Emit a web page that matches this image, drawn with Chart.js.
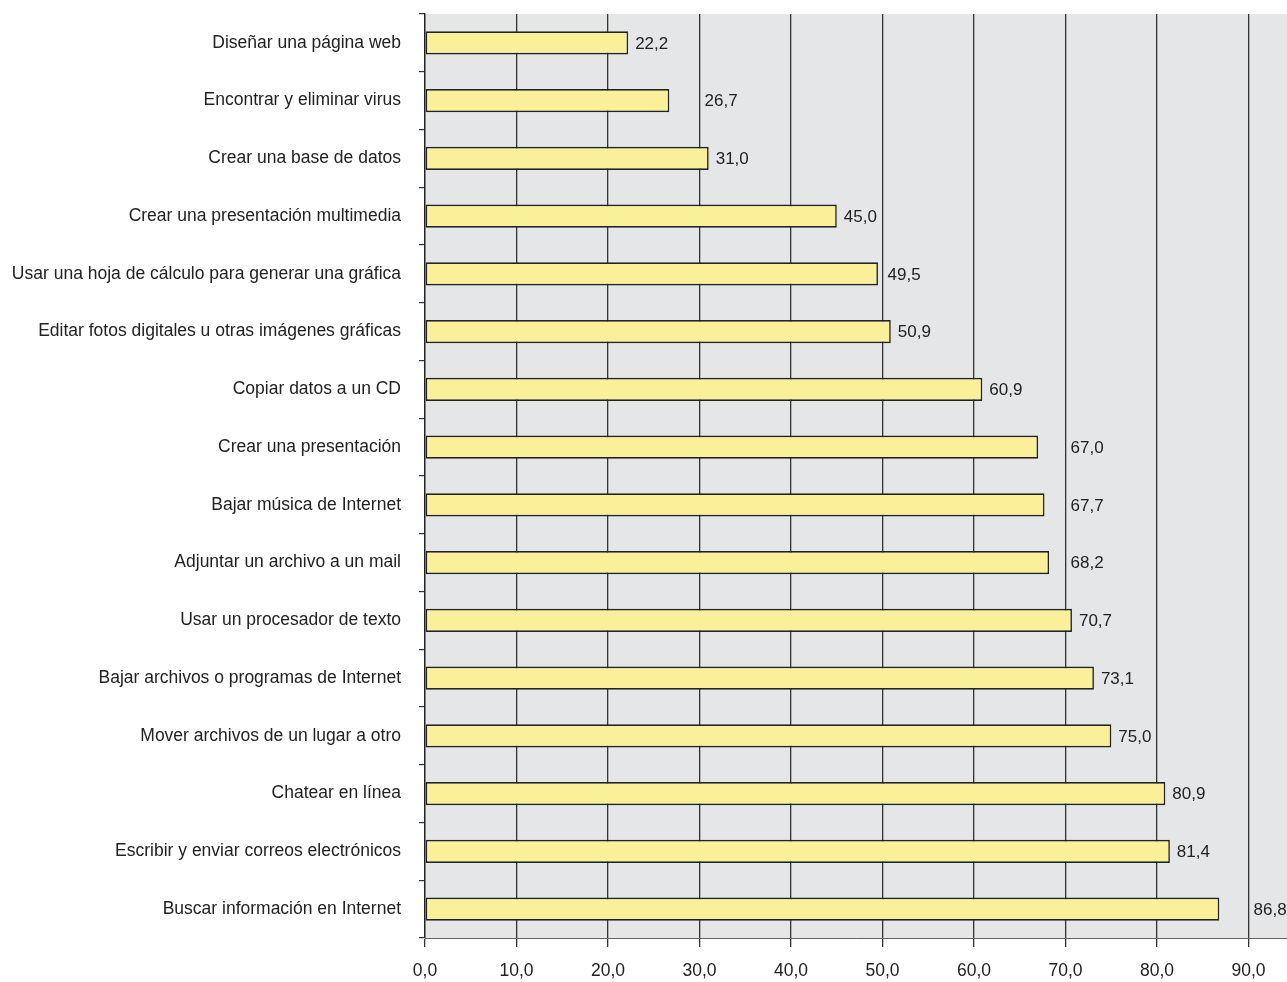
<!DOCTYPE html>
<html>
<head>
<meta charset="utf-8">
<script src="https://cdn.jsdelivr.net/npm/chart.js@4.4.0/dist/chart.umd.min.js"></script>
<style>
  html, body { margin: 0; padding: 0; background: #fff; }
  #wrap { width: 1287px; height: 982px; }
</style>
</head>
<body>
<div id="wrap"><canvas id="myChart"></canvas></div>
<script>
const categories = [
  "Diseñar una página web",
  "Encontrar y eliminar virus",
  "Crear una base de datos",
  "Crear una presentación multimedia",
  "Usar una hoja de cálculo para generar una gráfica",
  "Editar fotos digitales u otras imágenes gráficas",
  "Copiar datos a un CD",
  "Crear una presentación",
  "Bajar música de Internet",
  "Adjuntar un archivo a un mail",
  "Usar un procesador de texto",
  "Bajar archivos o programas de Internet",
  "Mover archivos de un lugar a otro",
  "Chatear en línea",
  "Escribir y enviar correos electrónicos",
  "Buscar información en Internet",
];

const values = [22.2, 26.7, 31.0, 45.0, 49.5, 50.9, 60.9, 67.0, 67.7, 68.2, 70.7, 73.1, 75.0, 80.9, 81.4, 86.8];

const xTicks = [0, 10, 20, 30, 40, 50, 60, 70, 80, 90];

const FONT = "'Liberation Sans', Arial, sans-serif";

// format numbers with a comma like the original
const fmt = (v) => v.toFixed(1).replace(".", ",");

// grey plot background
const plotBg = {
  id: "plotBg",
  beforeDraw(chart) {
    const { ctx, chartArea: a } = chart;
    ctx.save();
    ctx.fillStyle = "#e5e6e7";
    ctx.fillRect(a.left, a.top, a.right - a.left, a.bottom - a.top);
    ctx.restore();
  },
};

// value labels, pushed past a gridline when they would touch it
const valueLabels = {
  id: "valueLabels",
  afterDatasetsDraw(chart) {
    const { ctx } = chart;
    const xs = chart.scales.x;
    ctx.save();
    ctx.font = "17px " + FONT;
    ctx.fillStyle = "#222";
    ctx.textBaseline = "middle";
    chart.getDatasetMeta(0).data.forEach((bar, i) => {
      const txt = fmt(values[i]);
      const w = ctx.measureText(txt).width;
      let x = bar.x + 7;
      const gridPx = xs.getPixelForValue(Math.ceil(values[i] / 10) * 10);
      if (x + w > gridPx - 2) x = gridPx + 5;
      ctx.fillText(txt, x, bar.y + 1);
    });
    ctx.restore();
  },
};

const ctx = document.getElementById("myChart").getContext("2d");
const myChart = new Chart(ctx, {
  type: "bar",
  data: {
    labels: categories,
    datasets: [{
      data: values,
      backgroundColor: "#faf09a",
      borderColor: "#222",
      borderWidth: 1.6,
      borderSkipped: false,
      barPercentage: 0.4,
      categoryPercentage: 1,
    }],
  },
  options: {
    indexAxis: "y",
    responsive: true,
    maintainAspectRatio: false,
    animation: false,
    layout: { padding: { top: 14, right: 0, left: 0, bottom: 0 } },
    plugins: {
      legend: { display: false },
      tooltip: { enabled: false },
    },
    scales: {
      x: {
        min: 0,
        max: 94.2,
        afterBuildTicks: (scale) => { scale.ticks = xTicks.map((v) => ({ value: v })); },
        afterFit: (scale) => { scale.height = 44; scale.paddingLeft = 0; scale.paddingRight = 0; },
        grid: { color: "#333", lineWidth: 1.3, tickLength: 9, drawOnChartArea: true },
        border: { display: true, color: "#666", width: 1 },
        ticks: {
          color: "#222",
          font: { family: FONT, size: 17.5 },
          padding: 14,
          maxRotation: 0,
          callback: (v) => fmt(v),
        },
      },
      y: {
        afterFit: (scale) => { scale.width = 425; scale.paddingTop = 0; scale.paddingBottom = 0; },
        grid: { offset: true, drawOnChartArea: false, color: "#333", tickLength: 6, lineWidth: 1.2 },
        border: { display: true, color: "#222", width: 1.3 },
        ticks: {
          color: "#222",
          font: { family: FONT, size: 17.5 },
          padding: 18,
          autoSkip: false,
        },
      },
    },
  },
  plugins: [plotBg, valueLabels],
});
</script>
</body>
</html>
